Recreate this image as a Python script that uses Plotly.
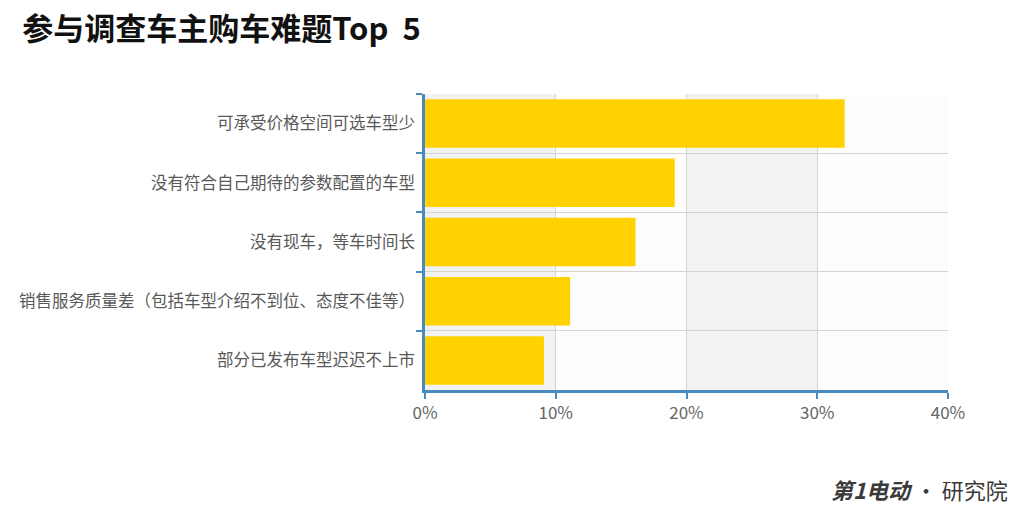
import plotly.graph_objects as go

categories = [
    "可承受价格空间可选车型少",
    "没有符合自己期待的参数配置的车型",
    "没有现车，等车时间长",
    "销售服务质量差（包括车型介绍不到位、态度不佳等）",
    "部分已发布车型迟迟不上市",
]
values = [32.1, 19.1, 16.1, 11.1, 9.1]
x_ticks = [0, 10, 20, 30, 40]
x_tick_labels = ["0%", "10%", "20%", "30%", "40%"]
band_starts = [0, 20]

FONT = "Noto Sans CJK SC"
AXIS_BLUE = "#4a8bbd"
GRID = "#d4d4d4"

fig = go.Figure()
fig.add_trace(go.Bar(
    y=categories, x=values, orientation="h",
    marker=dict(color="#FFD200", line=dict(width=0)),
    width=0.82,
    hoverinfo="x+y",
))

shapes = []
for b in band_starts:
    shapes.append(dict(type="rect", xref="x", yref="paper", x0=b, x1=b + 10, y0=0, y1=1,
                       fillcolor="#f2f2f2", line=dict(width=0), layer="below"))

fig.update_layout(
    width=1016, height=508,
    margin=dict(l=417, r=76, t=86, b=126),
    paper_bgcolor="white",
    plot_bgcolor="#fdfdfd",
    showlegend=False,
    shapes=shapes,
    font=dict(family=FONT, color="#595959", size=16),
    title=dict(
        text="<b>参与调查车主购车难题Top  5</b>",
        x=0.014, xanchor="left", y=0.959, yanchor="middle",
        font=dict(family=FONT, size=31, color="#111111"),
    ),
    xaxis=dict(
        range=[0, 40], tickvals=x_ticks, ticktext=x_tick_labels,
        showgrid=True, gridcolor=GRID, gridwidth=1,
        showline=True, linecolor=AXIS_BLUE, linewidth=2.5,
        ticks="outside", tickcolor=AXIS_BLUE, ticklen=6, tickwidth=1.5,
        tickfont=dict(size=17, color="#666666"),
        zeroline=False, fixedrange=True,
    ),
    yaxis=dict(
        type="category", autorange="reversed",
        tickson="boundaries",
        showgrid=True, gridcolor=GRID, gridwidth=1,
        showline=True, linecolor=AXIS_BLUE, linewidth=2.5,
        ticks="outside", tickcolor=AXIS_BLUE, ticklen=6, tickwidth=1.5,
        tickfont=dict(size=16.5, color="#595959"),
        ticklabelstandoff=4,
        fixedrange=True,
    ),
    bargap=0.18,
)

fig.add_annotation(
    text="<b><i>第1电动</i></b> · 研究院", xref="paper", yref="paper",
    x=1.119, y=-0.335, xanchor="right", yanchor="middle", showarrow=False,
    font=dict(family=FONT, size=22, color="#3a3a3a"),
)

fig.write_html("out.html")
